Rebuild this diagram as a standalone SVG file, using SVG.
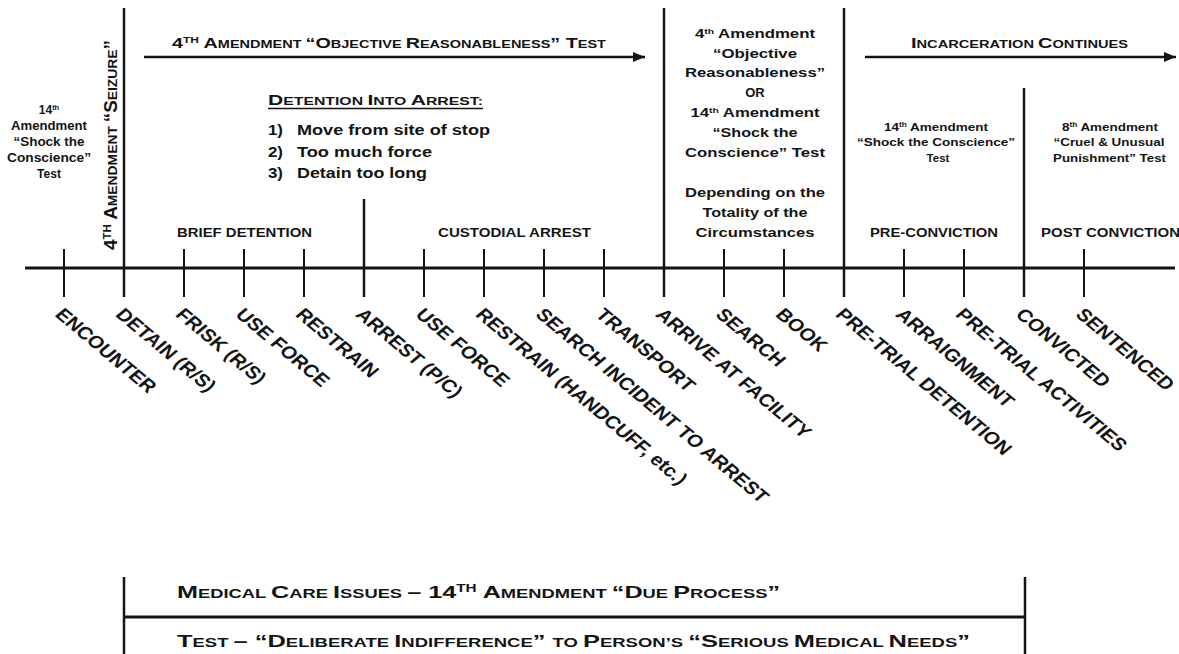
<svg xmlns="http://www.w3.org/2000/svg" width="1179" height="654" viewBox="0 0 1179 654">
<defs>
<style>
.t{font-family:"Liberation Sans",Arial,Helvetica,sans-serif;font-weight:700;fill:#141414}
.lbl{font-size:17.5px}
.s{font-size:11px}
.s2{font-size:12px}
.ln{stroke:#141414;stroke-width:2.5;fill:none}
.ax{stroke:#141414;stroke-width:3;fill:none}
.tk{stroke:#141414;stroke-width:2;fill:none}
</style>
<marker id="ah" markerUnits="userSpaceOnUse" markerWidth="12" markerHeight="10" refX="12" refY="5" orient="auto"><path d="M0,0 L12,5 L0,10 z" fill="#141414"/></marker>
</defs>
<rect width="1179" height="654" fill="#ffffff"/>

<g id="connectors">
<line class="ax" x1="25" y1="268" x2="1175" y2="268"/>
<path class="tk" d="M64,249V297 M184,249V297 M244,249V297 M304,249V297 M424,249V297 M484,249V297 M544,249V297 M604,249V297 M724,249V297 M784,249V297 M904,249V297 M964,249V297 M1084,249V297"/>
<path class="ln" d="M124,8V297 M364,199V297 M664,8V297 M844,8V297 M1024,88V297"/>
<line class="ln" x1="144" y1="57" x2="645" y2="57" marker-end="url(#ah)"/>
<line class="ln" x1="865" y1="57" x2="1176" y2="57" marker-end="url(#ah)"/>
<path class="ln" d="M124,577V654 M1025,577V654"/>
<line class="ax" x1="124" y1="617" x2="1025" y2="617"/>
</g>

<g id="heading-objective">
<text class="t" x="172" y="48" font-size="15" textLength="434" lengthAdjust="spacingAndGlyphs">4<tspan font-size="9" dy="-5">TH</tspan><tspan dy="5"> A</tspan><tspan class="s">MENDMENT </tspan>“O<tspan class="s">BJECTIVE </tspan>R<tspan class="s">EASONABLENESS</tspan>” T<tspan class="s">EST</tspan></text>
</g>
<g id="heading-incarceration">
<text class="t" x="911" y="48" font-size="15" textLength="217" lengthAdjust="spacingAndGlyphs">I<tspan class="s">NCARCERATION </tspan>C<tspan class="s">ONTINUES</tspan></text>
</g>

<g id="seizure">
<text class="t" font-size="15" transform="matrix(0 -1 1.2 0 117 250)" textLength="210" lengthAdjust="spacingAndGlyphs">4<tspan font-size="9" dy="-5">TH</tspan><tspan dy="5"> A</tspan><tspan class="s">MENDMENT </tspan>“S<tspan class="s">EIZURE</tspan>”</text>
</g>

<g id="shock-left" class="t" font-size="12" text-anchor="middle">
<text x="49" y="114">14<tspan font-size="7.5" dy="-4">th</tspan></text>
<text x="49" y="130" textLength="76" lengthAdjust="spacingAndGlyphs">Amendment</text>
<text x="49" y="146" textLength="71" lengthAdjust="spacingAndGlyphs">“Shock the</text>
<text x="49" y="161.5" textLength="84" lengthAdjust="spacingAndGlyphs">Conscience”</text>
<text x="49" y="177.5">Test</text>
</g>

<g id="detention-into-arrest">
<text class="t" x="268" y="105" font-size="14" textLength="215" lengthAdjust="spacingAndGlyphs">D<tspan font-size="10.5">ETENTION </tspan>I<tspan font-size="10.5">NTO </tspan>A<tspan font-size="10.5">RREST:</tspan></text>
<line x1="268" y1="108.5" x2="483" y2="108.5" stroke="#141414" stroke-width="1.5"/>
<g class="t" font-size="14.5">
<text x="268" y="135" textLength="15" lengthAdjust="spacingAndGlyphs">1)</text>
<text x="297" y="135" textLength="193" lengthAdjust="spacingAndGlyphs">Move from site of stop</text>
<text x="268" y="156.5" textLength="15" lengthAdjust="spacingAndGlyphs">2)</text>
<text x="297" y="156.5" textLength="135" lengthAdjust="spacingAndGlyphs">Too much force</text>
<text x="268" y="178" textLength="15" lengthAdjust="spacingAndGlyphs">3)</text>
<text x="297" y="178" textLength="130" lengthAdjust="spacingAndGlyphs">Detain too long</text>
</g>
</g>

<g id="phases" class="t" font-size="12.5">
<text x="177" y="237" textLength="135" lengthAdjust="spacingAndGlyphs">BRIEF DETENTION</text>
<text x="438" y="237" textLength="153" lengthAdjust="spacingAndGlyphs">CUSTODIAL ARREST</text>
<text x="870" y="237" textLength="128" lengthAdjust="spacingAndGlyphs">PRE-CONVICTION</text>
<text x="1041" y="237" textLength="139" lengthAdjust="spacingAndGlyphs">POST CONVICTION</text>
</g>

<g id="middle-test" class="t" font-size="13" text-anchor="middle">
<text x="755" y="38" textLength="120" lengthAdjust="spacingAndGlyphs">4<tspan font-size="8" dy="-4">th</tspan><tspan dy="4"> Amendment</tspan></text>
<text x="755" y="57.5" textLength="84" lengthAdjust="spacingAndGlyphs">“Objective</text>
<text x="755" y="77" textLength="140" lengthAdjust="spacingAndGlyphs">Reasonableness”</text>
<text x="755" y="97">OR</text>
<text x="755" y="117" textLength="129" lengthAdjust="spacingAndGlyphs">14<tspan font-size="8" dy="-4">th</tspan><tspan dy="4"> Amendment</tspan></text>
<text x="755" y="137" textLength="85" lengthAdjust="spacingAndGlyphs">“Shock the</text>
<text x="755" y="157" textLength="140" lengthAdjust="spacingAndGlyphs">Conscience” Test</text>
<text x="755" y="197" textLength="140" lengthAdjust="spacingAndGlyphs">Depending on the</text>
<text x="755" y="217" textLength="105" lengthAdjust="spacingAndGlyphs">Totality of the</text>
<text x="755" y="237" textLength="119" lengthAdjust="spacingAndGlyphs">Circumstances</text>
</g>

<g id="pre-conviction-test" class="t" font-size="11.5" text-anchor="middle">
<text x="936" y="130.5" textLength="104" lengthAdjust="spacingAndGlyphs">14<tspan font-size="7" dy="-4">th</tspan><tspan dy="4"> Amendment</tspan></text>
<text x="936" y="146" textLength="158" lengthAdjust="spacingAndGlyphs">“Shock the Conscience”</text>
<text x="938" y="162">Test</text>
</g>
<g id="post-conviction-test" class="t" font-size="11.5" text-anchor="middle">
<text x="1110" y="130.5" textLength="96" lengthAdjust="spacingAndGlyphs">8<tspan font-size="7" dy="-4">th</tspan><tspan dy="4"> Amendment</tspan></text>
<text x="1109" y="146" textLength="111" lengthAdjust="spacingAndGlyphs">“Cruel &amp; Unusual</text>
<text x="1109.5" y="162" textLength="113" lengthAdjust="spacingAndGlyphs">Punishment” Test</text>
</g>

<g id="events" class="t lbl">
<g id="ev-encounter"><text transform="matrix(0.8485 0.7071 -0.8485 0.7071 54 315.5)">ENCOUNTER</text></g>
<g id="ev-detain"><text transform="matrix(0.8485 0.7071 -0.8485 0.7071 114.5 315.5)">DETAIN (R/S)</text></g>
<g id="ev-frisk"><text transform="matrix(0.8485 0.7071 -0.8485 0.7071 174.5 315.5)">FRISK (R/S)</text></g>
<g id="ev-use-force-1"><text transform="matrix(0.8485 0.7071 -0.8485 0.7071 234.5 315.5)">USE FORCE</text></g>
<g id="ev-restrain-1"><text transform="matrix(0.8485 0.7071 -0.8485 0.7071 294.5 315.5)">RESTRAIN</text></g>
<g id="ev-arrest"><text transform="matrix(0.8485 0.7071 -0.8485 0.7071 354.5 315.5)">ARREST (P/C)</text></g>
<g id="ev-use-force-2"><text transform="matrix(0.8485 0.7071 -0.8485 0.7071 414.5 315.5)">USE FORCE</text></g>
<g id="ev-restrain-2"><text transform="matrix(0.8485 0.7071 -0.8485 0.7071 474.5 315.5)">RESTRAIN (HANDCUFF, etc.)</text></g>
<g id="ev-search-incident"><text transform="matrix(0.8485 0.7071 -0.8485 0.7071 534.5 315.5)">SEARCH INCIDENT TO ARREST</text></g>
<g id="ev-transport"><text transform="matrix(0.8485 0.7071 -0.8485 0.7071 594.5 315.5)">TRANSPORT</text></g>
<g id="ev-arrive"><text transform="matrix(0.8485 0.7071 -0.8485 0.7071 654.5 315.5)">ARRIVE AT FACILITY</text></g>
<g id="ev-search"><text transform="matrix(0.8485 0.7071 -0.8485 0.7071 714.5 315.5)">SEARCH</text></g>
<g id="ev-book"><text transform="matrix(0.8485 0.7071 -0.8485 0.7071 774.5 315.5)">BOOK</text></g>
<g id="ev-pretrial-detention"><text transform="matrix(0.8485 0.7071 -0.8485 0.7071 834.5 315.5)">PRE-TRIAL DETENTION</text></g>
<g id="ev-arraignment"><text transform="matrix(0.8485 0.7071 -0.8485 0.7071 894.5 315.5)">ARRAIGNMENT</text></g>
<g id="ev-pretrial-activities"><text transform="matrix(0.8485 0.7071 -0.8485 0.7071 954.5 315.5)">PRE-TRIAL ACTIVITIES</text></g>
<g id="ev-convicted"><text transform="matrix(0.8485 0.7071 -0.8485 0.7071 1014.5 315.5)">CONVICTED</text></g>
<g id="ev-sentenced"><text transform="matrix(0.8485 0.7071 -0.8485 0.7071 1074.5 315.5)">SENTENCED</text></g>
</g>

<g id="medical-care">
<text class="t" x="177" y="598" font-size="16.5" textLength="603" lengthAdjust="spacingAndGlyphs">M<tspan class="s2">EDICAL </tspan>C<tspan class="s2">ARE </tspan>I<tspan class="s2">SSUES </tspan>– 14<tspan font-size="10" dy="-6">TH</tspan><tspan dy="6"> A</tspan><tspan class="s2">MENDMENT </tspan>“D<tspan class="s2">UE </tspan>P<tspan class="s2">ROCESS</tspan>”</text>
<text class="t" x="177" y="647" font-size="16.5" textLength="793" lengthAdjust="spacingAndGlyphs">T<tspan class="s2">EST </tspan>– “D<tspan class="s2">ELIBERATE </tspan>I<tspan class="s2">NDIFFERENCE</tspan>” <tspan class="s2">TO </tspan>P<tspan class="s2">ERSON’S </tspan>“S<tspan class="s2">ERIOUS </tspan>M<tspan class="s2">EDICAL </tspan>N<tspan class="s2">EEDS</tspan>”</text>
</g>
</svg>
